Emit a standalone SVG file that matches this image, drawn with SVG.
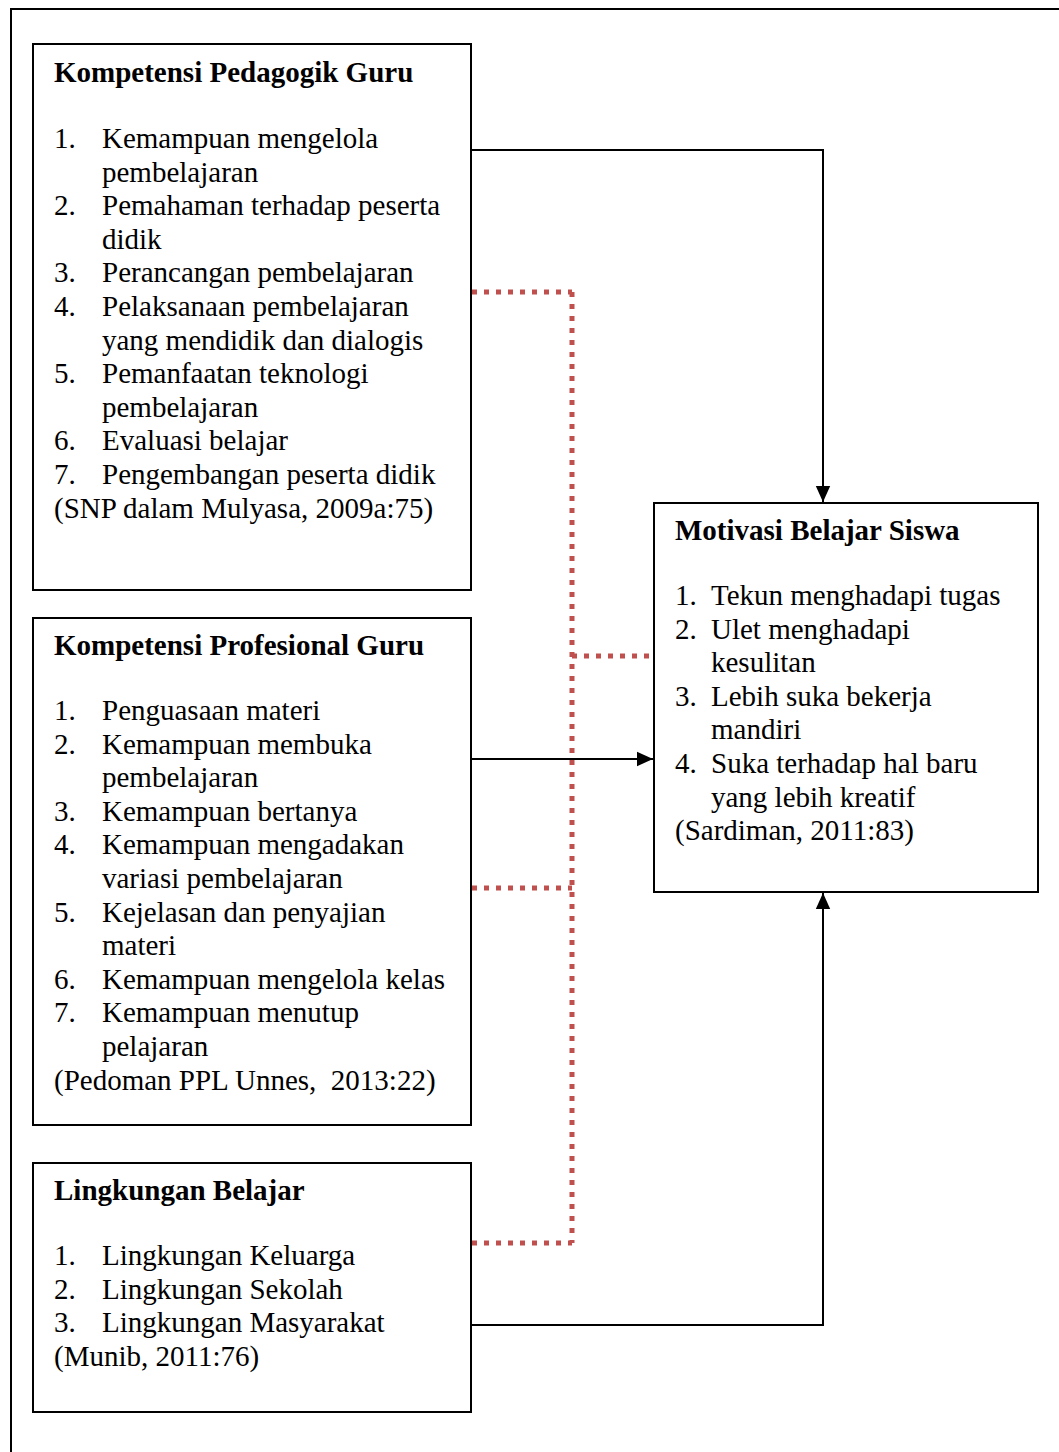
<svg xmlns="http://www.w3.org/2000/svg" width="1059" height="1452" viewBox="0 0 1059 1452">
<style>
text{font-family:"Liberation Serif","Times New Roman",serif;font-size:29px;fill:#000}
.t{font-weight:bold}
.box{fill:#fff;stroke:#000;stroke-width:2}
.ln{fill:none;stroke:#000;stroke-width:2}
.dot{fill:none;stroke:#c0504d;stroke-width:5;stroke-dasharray:5 7}
</style>
<defs>
<marker id="ah" viewBox="0 0 10 10" refX="10" refY="5" markerWidth="16" markerHeight="16" markerUnits="userSpaceOnUse" orient="auto">
<path d="M0,0.5 L10,5 L0,9.5 z" fill="#000"/>
</marker>
</defs>
<rect width="1059" height="1452" fill="#fff"/>
<path d="M11,1460 L11,9 L1070,9" fill="none" stroke="#000" stroke-width="2"/>
<g id="connectors">
<path class="ln" d="M471,150 L823,150 L823,502" marker-end="url(#ah)"/>
<path class="ln" d="M471,759 L653,759" marker-end="url(#ah)"/>
<path class="ln" d="M471,1325 L823,1325 L823,893" marker-end="url(#ah)"/>
<path class="dot" d="M472,292 L572,292"/>
<path class="dot" d="M572,292 L572,1243"/>
<path class="dot" d="M472,1243 L572,1243"/>
<path class="dot" d="M572,656 L654,656"/>
<path class="dot" d="M472,888 L572,888"/>
</g>
<g id="pedagogik">
<rect class="box" x="33" y="44" width="438" height="546"/>
<text class="t" x="54" y="82">Kompetensi Pedagogik Guru</text>
<text x="54" y="148">1.</text><text x="102" y="148">Kemampuan mengelola</text>
<text x="102" y="181.6">pembelajaran</text>
<text x="54" y="215.2">2.</text><text x="102" y="215.2">Pemahaman terhadap peserta</text>
<text x="102" y="248.8">didik</text>
<text x="54" y="282.4">3.</text><text x="102" y="282.4">Perancangan pembelajaran</text>
<text x="54" y="316">4.</text><text x="102" y="316">Pelaksanaan pembelajaran</text>
<text x="102" y="349.6">yang mendidik dan dialogis</text>
<text x="54" y="383.2">5.</text><text x="102" y="383.2">Pemanfaatan teknologi</text>
<text x="102" y="416.8">pembelajaran</text>
<text x="54" y="450.4">6.</text><text x="102" y="450.4">Evaluasi belajar</text>
<text x="54" y="484">7.</text><text x="102" y="484">Pengembangan peserta didik</text>
<text x="54" y="517.6">(SNP dalam Mulyasa, 2009a:75)</text>
</g>
<g id="profesional">
<rect class="box" x="33" y="618" width="438" height="507"/>
<text class="t" x="54" y="655">Kompetensi Profesional Guru</text>
<text x="54" y="720">1.</text><text x="102" y="720">Penguasaan materi</text>
<text x="54" y="753.6">2.</text><text x="102" y="753.6">Kemampuan membuka</text>
<text x="102" y="787.2">pembelajaran</text>
<text x="54" y="820.8">3.</text><text x="102" y="820.8">Kemampuan bertanya</text>
<text x="54" y="854.4">4.</text><text x="102" y="854.4">Kemampuan mengadakan</text>
<text x="102" y="888">variasi pembelajaran</text>
<text x="54" y="921.6">5.</text><text x="102" y="921.6">Kejelasan dan penyajian</text>
<text x="102" y="955.2">materi</text>
<text x="54" y="988.8">6.</text><text x="102" y="988.8">Kemampuan mengelola kelas</text>
<text x="54" y="1022.4">7.</text><text x="102" y="1022.4">Kemampuan menutup</text>
<text x="102" y="1056">pelajaran</text>
<text x="54" y="1089.6" xml:space="preserve">(Pedoman PPL Unnes,  2013:22)</text>
</g>
<g id="lingkungan">
<rect class="box" x="33" y="1163" width="438" height="249"/>
<text class="t" x="54" y="1200">Lingkungan Belajar</text>
<text x="54" y="1265">1.</text><text x="102" y="1265">Lingkungan Keluarga</text>
<text x="54" y="1298.6">2.</text><text x="102" y="1298.6">Lingkungan Sekolah</text>
<text x="54" y="1332.2">3.</text><text x="102" y="1332.2">Lingkungan Masyarakat</text>
<text x="54" y="1365.8">(Munib, 2011:76)</text>
</g>
<g id="motivasi">
<rect class="box" x="654" y="503" width="384" height="389"/>
<text class="t" x="675" y="540">Motivasi Belajar Siswa</text>
<text x="675" y="605">1.</text><text x="711" y="605">Tekun menghadapi tugas</text>
<text x="675" y="638.6">2.</text><text x="711" y="638.6">Ulet menghadapi</text>
<text x="711" y="672.2">kesulitan</text>
<text x="675" y="705.8">3.</text><text x="711" y="705.8">Lebih suka bekerja</text>
<text x="711" y="739.4">mandiri</text>
<text x="675" y="773">4.</text><text x="711" y="773">Suka terhadap hal baru</text>
<text x="711" y="806.6">yang lebih kreatif</text>
<text x="675" y="840.2">(Sardiman, 2011:83)</text>
</g>
</svg>
